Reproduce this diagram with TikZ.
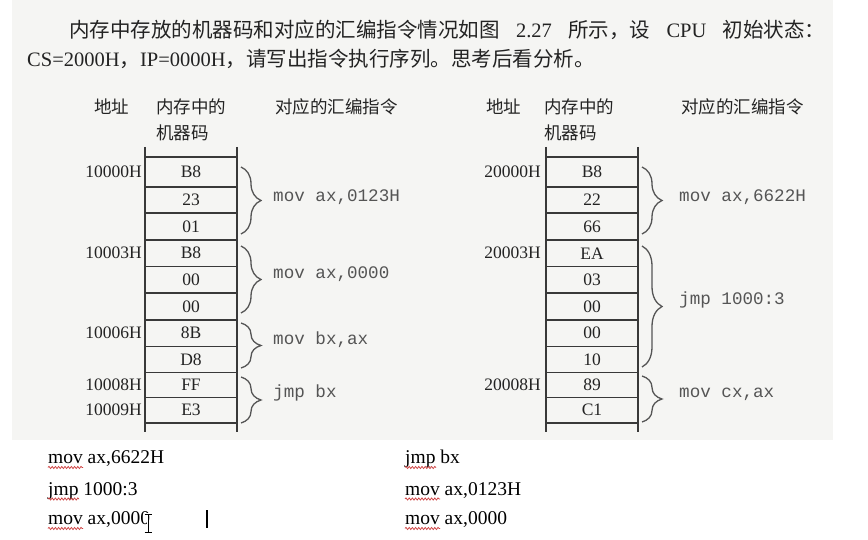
\documentclass[tikz,border=0pt]{standalone}
\usepackage{fontspec}
\setmainfont{Liberation Serif}
\setmonofont{Liberation Mono}
\newfontfamily\cjk{Noto Sans CJK SC}
\usetikzlibrary{decorations.pathreplacing,decorations.pathmorphing,calc}
\definecolor{scanbg}{RGB}{245,245,243}
\definecolor{ink}{RGB}{35,35,35}
\definecolor{codeink}{RGB}{85,85,85}
\definecolor{squig}{RGB}{205,60,60}
\begin{document}
\begin{tikzpicture}[x=1pt,y=-1pt,
  txt/.style={inner sep=0pt, text=ink},
  big/.style={txt, font=\fontsize{20.5pt}{24pt}\selectfont},
  head/.style={txt, anchor=west, font=\cjk\fontsize{17.5pt}{20pt}\selectfont},
  cell/.style={txt, font=\fontsize{17.5pt}{20pt}\selectfont},
  addr/.style={txt, anchor=east, font=\fontsize{17.5pt}{20pt}\selectfont},
  code/.style={inner sep=0pt, anchor=base west, text=codeink, font=\ttfamily\fontsize{17.6pt}{20pt}\selectfont},
  seq/.style={inner sep=0pt, anchor=base west, text=black, font=\fontsize{19.5pt}{22pt}\selectfont},
  tbl/.style={draw=ink!90, line width=1.4pt},
  brc/.style={draw=codeink, line width=1.3pt, decorate, decoration={brace, amplitude=20pt}},
  wavy/.style={draw=squig, line width=0.7pt, decorate, decoration={snake, amplitude=1.1pt, segment length=3.2pt}}]
\useasboundingbox (0,0) rectangle (868,540);
\fill[white] (0,0) rectangle (868,540);
\fill[scanbg] (12,0) rectangle (833,440);

% intro text
\node[big, anchor=west] (l1) at (69,29.5) {\makebox[756pt][s]{{\cjk 内存中存放的机器码和对应的汇编指令情况如图} 2.27 {\cjk 所示，设} CPU {\cjk 初始状态：}}};
\node[big, anchor=west] (l2) at (27,58.5) {CS=2000H{\cjk ，}IP=0000H{\cjk ，请写出指令执行序列。思考后看分析。}};

% headers
\node[head] (hA1) at (94,107) {地址};
\node[head] (hB1) at (156,107) {内存中的};
\node[head] (hC1) at (156,133) {机器码};
\node[head] (hD1) at (275,107) {对应的汇编指令};
\node[head] (hA2) at (486,107) {地址};
\node[head] (hB2) at (544,107) {内存中的};
\node[head] (hC2) at (544,133) {机器码};
\node[head] (hD2) at (681,107) {对应的汇编指令};

% tables
\foreach \xa/\xb in {145/237, 546/638}{
  \draw[tbl] (\xa,147) -- (\xa,432);
  \draw[tbl] (\xb,147) -- (\xb,432);
  \foreach \y in {157,187,213,240,266.5,293,320,346.5,372.5,397.5,423}
    \draw[tbl] (\xa,\y) -- (\xb,\y);
}
\foreach \v/\c [count=\i] in {B8/172,23/200,01/226.5,B8/253.25,00/279.75,00/306.5,8B/333.25,D8/359.5,FF/385,E3/410.25}
  \node[cell] (L\i) at (191,\c) {\v};
\foreach \v/\c [count=\i] in {B8/172,22/200,66/226.5,EA/253.25,03/279.75,00/306.5,00/333.25,10/359.5,89/385,C1/410.25}
  \node[cell] (R\i) at (592,\c) {\v};

% addresses
\node[addr] (aL1) at (142,172) {10000H};
\node[addr] (aL4) at (142,253.25) {10003H};
\node[addr] (aL7) at (142,333.25) {10006H};
\node[addr] (aL9) at (142,385) {10008H};
\node[addr] (aL10) at (142,410.25) {10009H};
\node[addr] (aR1) at (541,172) {20000H};
\node[addr] (aR4) at (541,253.25) {20003H};
\node[addr] (aR9) at (541,385) {20008H};

% braces left
\coordinate (bl1t) at (241,167); \coordinate (bl1b) at (241,234);
\coordinate (bl2t) at (241,246); \coordinate (bl2b) at (241,313);
\coordinate (bl3t) at (241,323); \coordinate (bl3b) at (241,368);
\coordinate (bl4t) at (241,377); \coordinate (bl4b) at (241,423);
\draw[brc] (bl1t) -- (bl1b);
\draw[brc] (bl2t) -- (bl2b);
\draw[brc] (bl3t) -- (bl3b);
\draw[brc] (bl4t) -- (bl4b);
\node[code] (cL1) at (273,202) {mov ax,0123H};
\node[code] (cL2) at (273,279) {mov ax,0000};
\node[code] (cL3) at (273,344) {mov bx,ax};
\node[code] (cL4) at (273,397) {jmp bx};

% braces right
\coordinate (br1t) at (642,167); \coordinate (br1b) at (642,234);
\coordinate (br2t) at (642,246); \coordinate (br2b) at (642,367);
\coordinate (br3t) at (642,376); \coordinate (br3b) at (642,422);
\draw[brc] (br1t) -- (br1b);
\draw[brc] (br2t) -- (br2b);
\draw[brc] (br3t) -- (br3b);
\node[code] (cR1) at (679,202) {mov ax,6622H};
\node[code] (cR2) at (679,305) {jmp 1000:3};
\node[code] (cR3) at (679,397) {mov cx,ax};

% execution sequence
\node[seq] (s1) at (48,463.5) {mov ax,6622H};
\node[seq] (s2) at (48,495) {jmp 1000:3};
\node[seq] (s3) at (48,524.5) {mov ax,0000};
\node[seq] (s4) at (405,463.5) {jmp bx};
\node[seq] (s5) at (405,495) {mov ax,0123H};
\node[seq] (s6) at (405,524.5) {mov ax,0000};
\draw[wavy] ($(s1.base west)+(0,4)$) -- ++(35,0);
\draw[wavy] ($(s2.base west)+(0,4)$) -- ++(31,0);
\draw[wavy] ($(s3.base west)+(0,4)$) -- ++(35,0);
\draw[wavy] ($(s4.base west)+(0,4)$) -- ++(31,0);
\draw[wavy] ($(s5.base west)+(0,4)$) -- ++(35,0);
\draw[wavy] ($(s6.base west)+(0,4)$) -- ++(35,0);

% text caret and I-beam pointer
\coordinate (caretT) at (207,510); \coordinate (caretB) at (207,528);
\draw[black, line width=2.4pt] (caretT) -- (caretB);
\coordinate (ibT) at (148,514); \coordinate (ibB) at (148,532);
\draw[white, line width=2.6pt] (ibT) -- (ibB) (144.5,514) -- (151.5,514) (144.5,532) -- (151.5,532);
\draw[black, line width=1pt] (ibT) -- (ibB) (144.5,514) -- (151.5,514) (144.5,532) -- (151.5,532);
\end{tikzpicture}
\end{document}
